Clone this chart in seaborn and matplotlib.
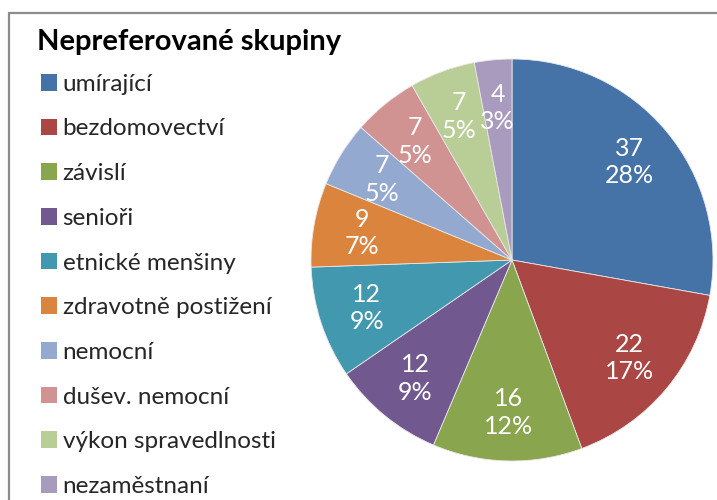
import matplotlib
matplotlib.use("Agg")
import matplotlib.pyplot as plt
import seaborn as sns
from matplotlib.lines import Line2D

# data
categories = ["umírající", "bezdomovectví", "závislí", "senioři", "etnické menšiny",
              "zdravotně postižení", "nemocní", "dušev. nemocní", "výkon spravedlnosti",
              "nezaměstnaní"]
counts = [37, 22, 16, 12, 12, 9, 7, 7, 7, 4]
colors = ["#4573A7", "#AA4643", "#89A54E", "#71588F", "#4198AF",
          "#DB843D", "#93A9CF", "#D19392", "#B9CD96", "#A99BBD"]
title = "Nepreferované skupiny"

sns.set_theme(style="white")
plt.rcParams["font.family"] = ["Lato", "DejaVu Sans"]

W, H = 717, 500
fig = plt.figure(figsize=(W / 100, H / 100), dpi=100)

# pie axes: center (512, 260), radius 201 px
cx, cy, r = 512, 260, 201
ax = fig.add_axes([(cx - r) / W, (H - cy - r) / H, 2 * r / W, 2 * r / H])

total = sum(counts)


def fmt(p):
    return f"{round(p * total / 100)}\n{p:.0f}%"


wedges, texts, autotexts = ax.pie(
    counts, colors=colors, startangle=90, counterclock=False,
    autopct=fmt, pctdistance=0.76, radius=1,
    wedgeprops=dict(linewidth=0.6, edgecolor="#e8e8e8"),
    textprops=dict(color="white", fontsize=18),
)
for t in autotexts:
    t.set_linespacing(1.25)
ax.set_xlim(-1, 1)
ax.set_ylim(-1, 1)
ax.set_aspect("equal")
ax.axis("off")

# frame (top and left lines visible)
fig.add_artist(Line2D([9 / W, 1], [1 - 13 / H, 1 - 13 / H], color="#8c8c8c", lw=1.6))
fig.add_artist(Line2D([9 / W, 9 / W], [0, 1 - 13 / H], color="#8c8c8c", lw=1.6))

fig.text(37 / W, 1 - 50 / H, title, fontsize=21, fontweight="bold", color="black")

leg = fig.legend(wedges, categories, loc="upper left",
                 bbox_to_anchor=(31 / W, 1 - 64 / H), frameon=False,
                 fontsize=17.5, handlelength=0.68, handleheight=0.68,
                 handletextpad=0.22, labelspacing=0.975, borderaxespad=0)
for h in leg.legend_handles:
    h.set_edgecolor("none")

fig.savefig("out.png", dpi=100)
